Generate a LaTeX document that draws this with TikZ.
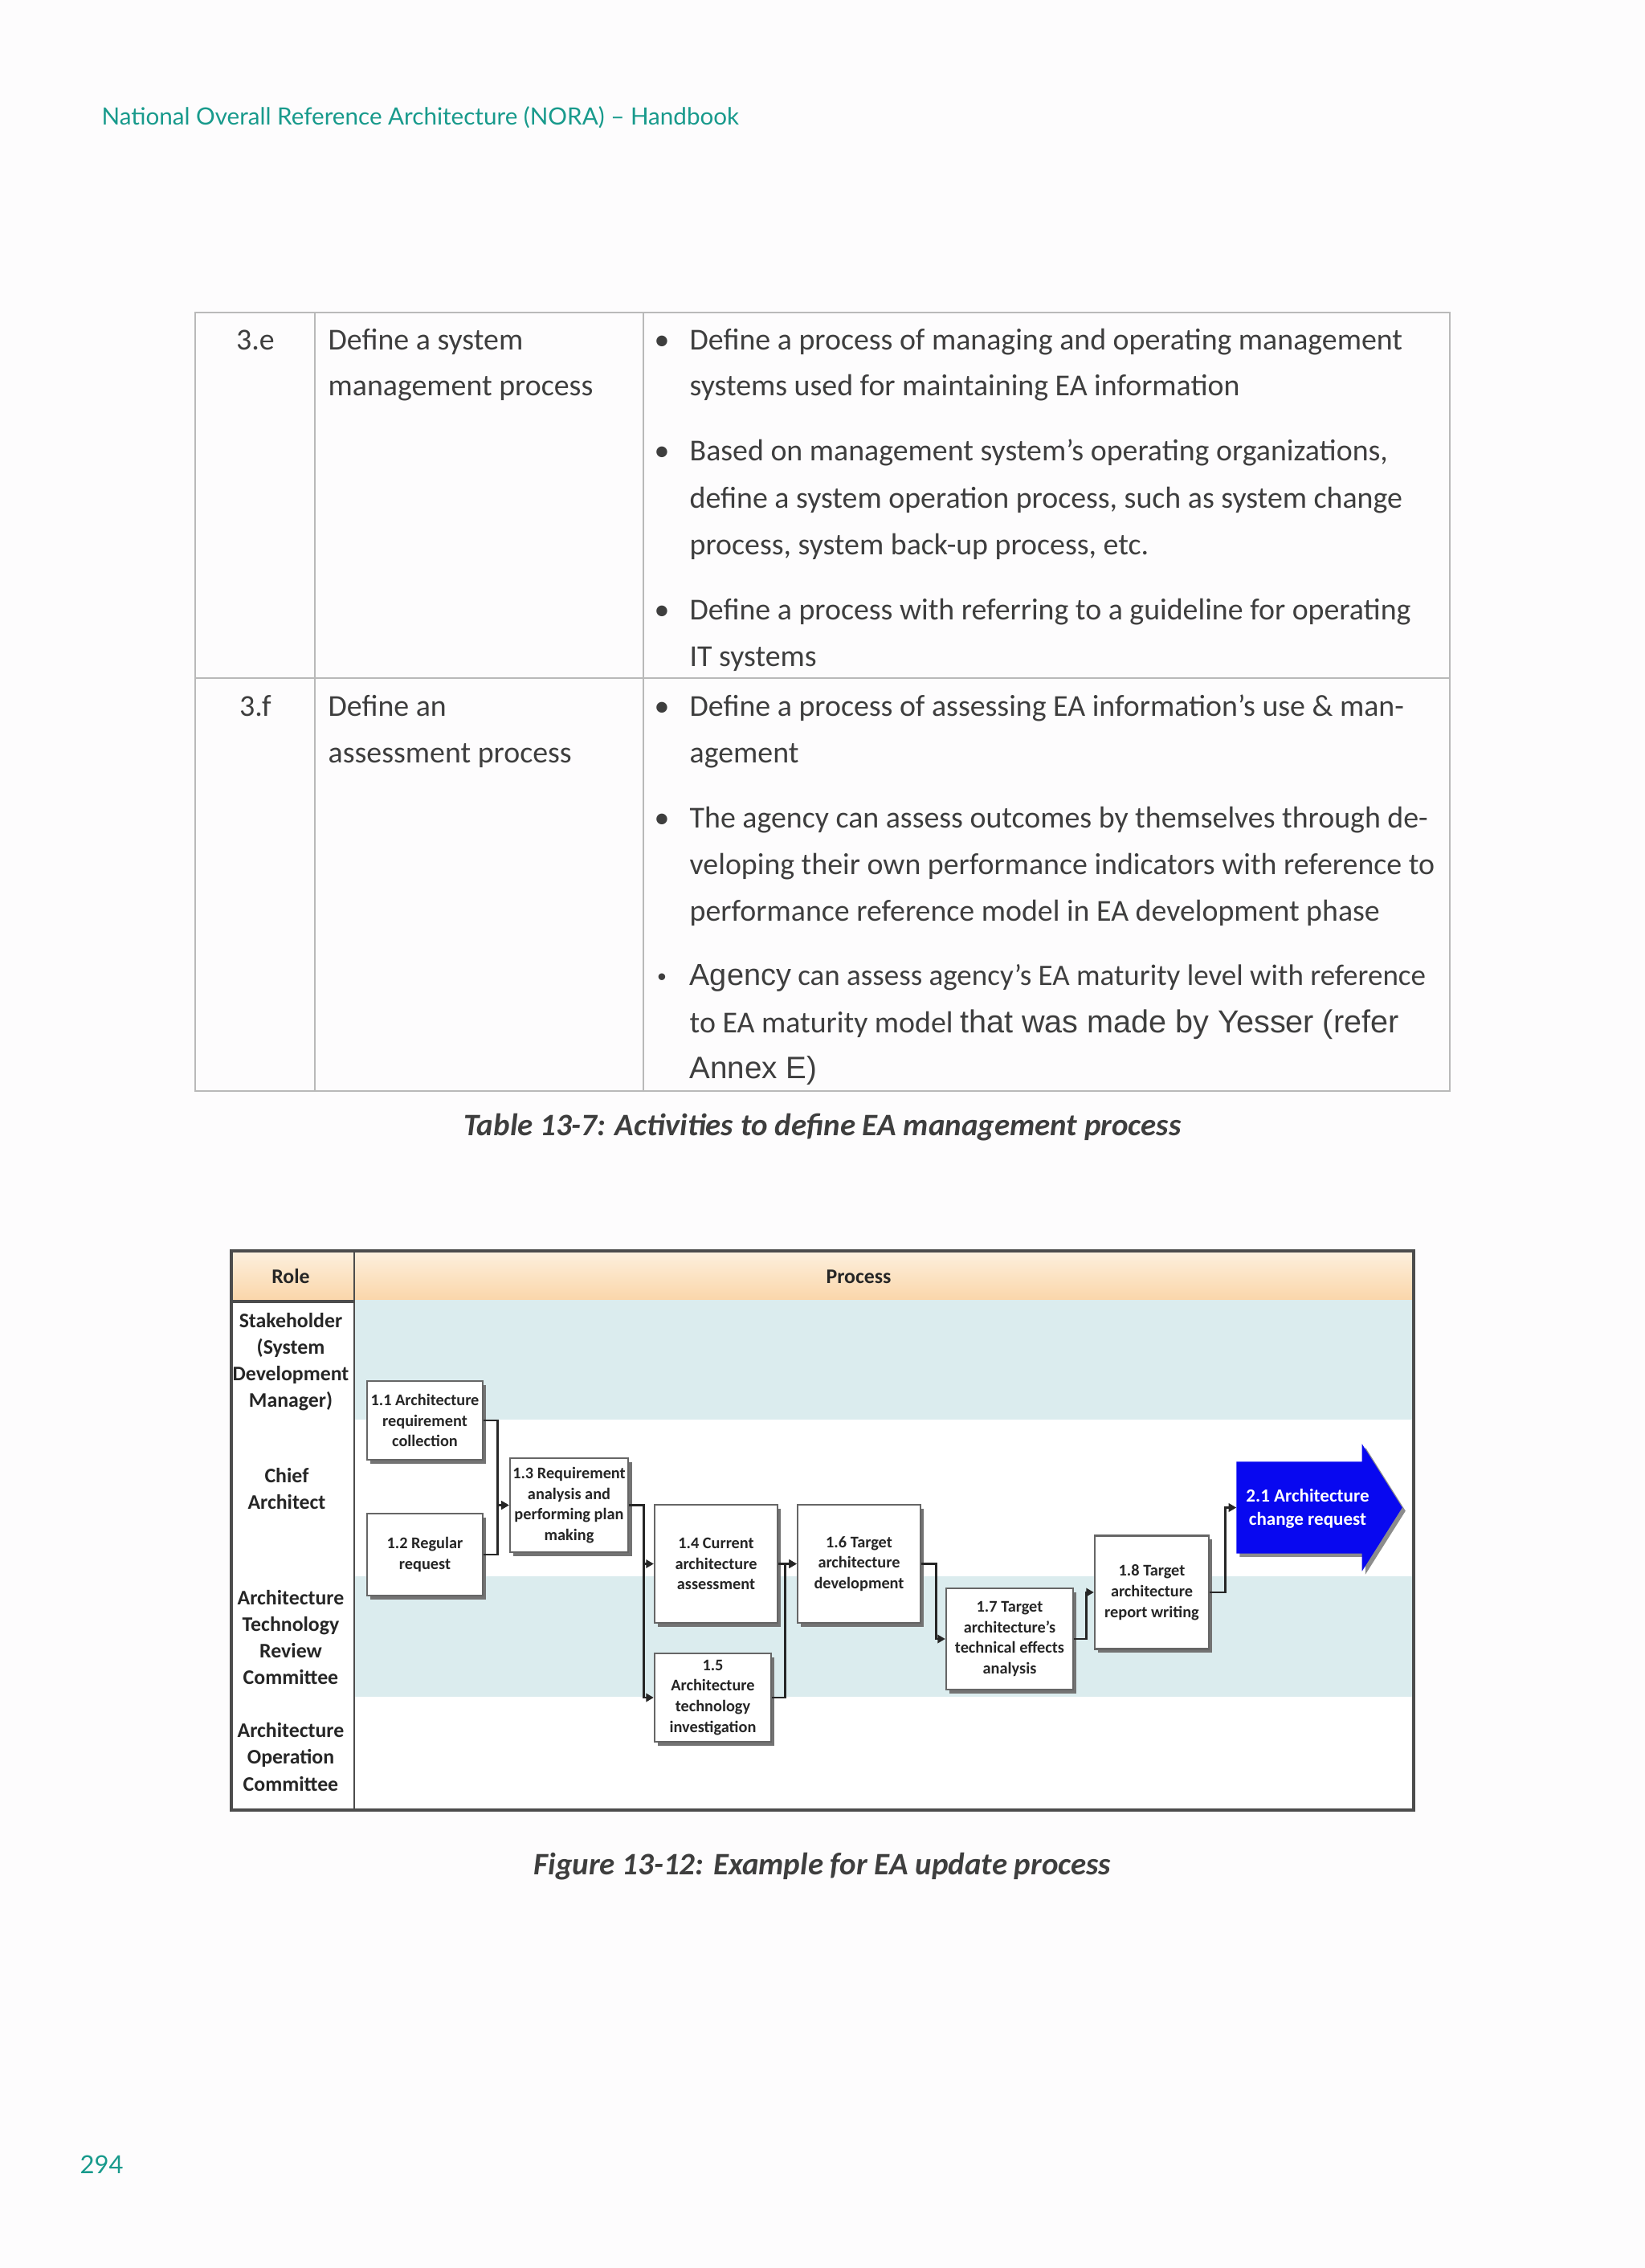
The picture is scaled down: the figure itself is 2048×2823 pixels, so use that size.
\documentclass[tikz,border=0pt]{standalone}
\usepackage{fontspec}
\setmainfont{Carlito}
\newfontfamily\arialf{Liberation Sans}
\newfontfamily\hdrf{Lato}
\usetikzlibrary{arrows.meta,shadows,calc}
\definecolor{pagebg}{RGB}{253,252,253}
\definecolor{tealc}{RGB}{24,154,140}
\definecolor{txtc}{RGB}{62,62,62}
\definecolor{tblc}{RGB}{185,185,185}
\definecolor{hdrtop}{RGB}{253,240,222}
\definecolor{hdrbot}{RGB}{250,214,170}
\definecolor{lanec}{RGB}{219,236,238}
\definecolor{bluec}{RGB}{8,8,240}
\tikzset{
  sz/.style 2 args={minimum width=#1*0.2905pt, minimum height=#2*0.2905pt},
  tx/.style={anchor=base west, inner sep=0pt, font=\fontsize{11}{13}\selectfont, text=txtc},
  tc/.style={anchor=base, inner sep=0pt, font=\fontsize{11}{13}\selectfont, text=txtc},
  bul/.style={anchor=base, inner sep=0pt, font=\fontsize{11}{13}\selectfont, text=txtc},
  tbl/.style={draw=tblc, line width=0.6pt},
  captext/.style={anchor=base, inner sep=0pt, font=\fontsize{11.3}{13}\selectfont\bfseries\itshape, text=txtc},
  rolel/.style={align=center, inner sep=0pt, font=\fontsize{7.5}{9.6}\selectfont\bfseries, text=black!85},
  bx/.style={draw=black!60, line width=0.65pt, fill=white, align=center, inner sep=1pt,
    font=\fontsize{5.9}{7.5}\selectfont\bfseries, text=black!85,
    drop shadow={shadow xshift=1.3pt, shadow yshift=-1.4pt, fill=black!55, opacity=1}},
  conn/.style={draw=black!85, line width=0.85pt, -{Triangle[length=2.8pt,width=3pt]}},
}
\begin{document}
\begin{tikzpicture}[x=0.2905pt,y=-0.2905pt]
\useasboundingbox (0,0) rectangle (2048,2823);
\fill[pagebg] (0,0) rectangle (2048,2823);

% running header
\node[anchor=base west, inner sep=0pt, font=\hdrf\fontsize{8.6}{11}\selectfont, text=tealc] (hdr) at (126,155)
  {National Overall Reference Architecture (NORA) – Handbook};

% ---------------- table ----------------
\draw[tbl] (243,389) rectangle (1805,1358);
\draw[tbl] (392,389) -- (392,1358);
\draw[tbl] (801,389) -- (801,1358);
\draw[tbl] (243,844) -- (1805,844);

% row 3.e
\node[tc] (e0) at (318,435) {3.e};
\node[tx] (e1) at (408,435) {Define a system};
\node[tx] (e2) at (408,492) {management process};
\node[bul] (eb1) at (824,435) {•};
\node[tx] (e3) at (858,435) {Define a process of managing and operating management};
\node[tx] (e4) at (858,492) {systems used for maintaining EA information};
\node[bul] (eb2) at (824,573) {•};
\node[tx] (e5) at (858,573) {Based on management system’s operating organizations,};
\node[tx] (e6) at (858,632) {define a system operation process, such as system change};
\node[tx] (e7) at (858,690) {process, system back-up process, etc.};
\node[bul] (eb3) at (824,771) {•};
\node[tx] (e8) at (858,771) {Define a process with referring to a guideline for operating};
\node[tx] (e9) at (858,829) {IT systems};

% row 3.f
\node[tc] (f0) at (318,891) {3.f};
\node[tx] (f1) at (408,891) {Define an};
\node[tx] (f2) at (408,949) {assessment process};
\node[bul] (fb1) at (824,891) {•};
\node[tx] (f3) at (858,891) {Define a process of assessing EA information’s use \& man-};
\node[tx] (f4) at (858,949) {agement};
\node[bul] (fb2) at (824,1030) {•};
\node[tx] (f5) at (858,1030) {The agency can assess outcomes by themselves through de-};
\node[tx] (f6) at (858,1088) {veloping their own performance indicators with reference to};
\node[tx] (f7) at (858,1146) {performance reference model in EA development phase};
\node[bul] (fb3) at (824,1226) {\fontsize{9}{11}\selectfont\arialf •};
\node[tx] (f8) at (858,1226) {{\arialf Agency}\fontsize{10.75}{13}\selectfont{} can assess agency’s EA maturity level with reference};
\node[tx] (f9) at (858,1285) {to EA maturity model {\arialf\fontsize{11.5}{13}\selectfont that was made by Yesser (refer}};
\node[tx] (f10) at (858,1342) {{\arialf\fontsize{11.2}{13}\selectfont Annex E)}};

\node[captext] (cap1) at (1024,1413) {Table 13-7: Activities to define EA management process};

% ---------------- diagram ----------------
\fill[white] (288,1557) rectangle (1760,2253);
\shade[top color=hdrtop, bottom color=hdrbot] (288,1557) rectangle (1760,1618);
\fill[lanec] (441,1618) rectangle (1760,1767);
\fill[lanec] (441,1962) rectangle (1760,2112);
\draw[line width=1.2pt, black!70] (288,1620) -- (441,1620);
\draw[line width=0.8pt, black!70] (441,1557) -- (441,2253);
\draw[line width=1pt, black!70] (288,1557) rectangle (1760,2253);

\node[rolel] (hrole) at (362,1589) {Role};
\node[rolel] (hproc) at (1069,1589) {Process};
\node[rolel] (rl1) at (362,1695) {Stakeholder\\(System\\Development\\Manager)};
\node[rolel] (rl2) at (357,1853) {Chief\\Architect};
\node[rolel] (rl3) at (362,2038) {Architecture\\Technology\\Review\\Committee};
\node[rolel] (rl4) at (362,2187) {Architecture\\Operation\\Committee};

\node[bx, sz={144}{98}] (b11) at (529,1768) {1.1 Architecture\\requirement\\collection};
\node[bx, sz={144}{102}] (b12) at (529,1935) {1.2 Regular\\request};
\node[bx, sz={143}{117}] (b13) at (708.5,1873.5) {1.3 Requirement\\analysis and\\performing plan\\making};
\node[bx, sz={153}{147}] (b14) at (891.5,1946.5) {1.4 Current\\architecture\\assessment};
\node[bx, sz={145}{110}] (b15) at (887.5,2113) {1.5\\Architecture\\technology\\investigation};
\node[bx, sz={153}{147}] (b16) at (1069.5,1946.5) {1.6 Target\\architecture\\development};
\node[bx, sz={158}{126}] (b17) at (1257,2040) {1.7 Target\\architecture’s\\technical effects\\analysis};
\node[bx, sz={142}{141}] (b18) at (1434,1982) {1.8 Target\\architecture\\report writing};

% blue arrow 2.1
\node[sz={155}{113}, inner sep=0pt] (b21) at (1617.5,1876.5) {};
\fill[bluec, drop shadow={shadow xshift=1.2pt, shadow yshift=-1.2pt, fill=black!45, opacity=1}]
  (b21.north west) -- (b21.north east) -- ++(0,-22) -- ($(b21.east)+(50,0)$)
  -- ($(b21.south east)+(0,22)$) -- (b21.south east) -- (b21.south west) -- cycle;
\node[align=center, inner sep=0pt, font=\fontsize{6.7}{8.3}\selectfont\bfseries, text=white] (b21t) at (1628,1878)
  {2.1 Architecture\\change request};

% connectors
\draw[conn] (b11.east) -- ++(17,0) |- (b13.west);
\draw[conn] (b12.east) -- ++(17,0) |- (b13.west);
\draw[conn] (b13.east) -- ++(18,0) |- (b14.west);
\draw[conn] (b13.east) -- ++(18,0) |- (b15.west);
\draw[conn] (b14.east) -- (b16.west);
\draw[conn] (b15.east) -- ++(16,0) |- (b16.west);
\draw[conn] (b16.east) -- ++(18,0) |- (b17.west);
\draw[conn] (b17.east) -- ++(15,0) |- (b18.west);
\draw[conn] (b18.east) -- ++(19,0) |- (b21.west);

\node[captext] (cap2) at (1024,2333) {Figure 13-12: Example for EA update process};

\node[anchor=base west, inner sep=0pt, font=\hdrf\fontsize{9}{11}\selectfont, text=tealc] (pn) at (99,2705) {294};
\end{tikzpicture}
\end{document}
